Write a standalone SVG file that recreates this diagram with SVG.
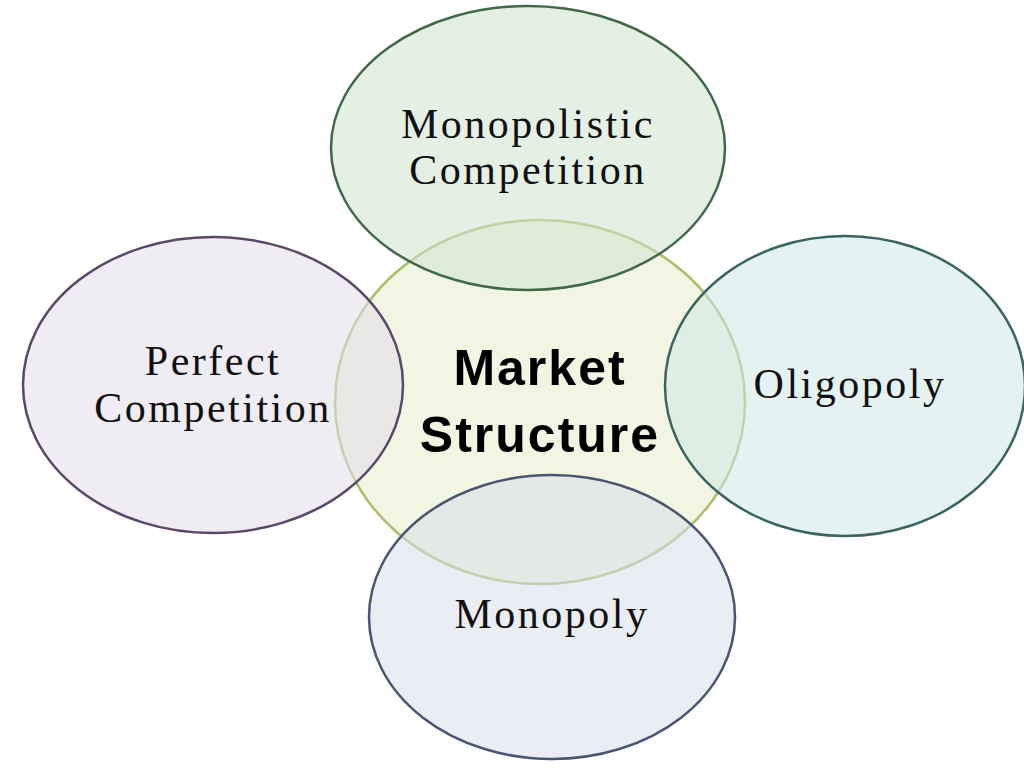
<svg xmlns="http://www.w3.org/2000/svg" width="1024" height="768" viewBox="0 0 1024 768">
<style>
.e{stroke-width:2.5;fill-opacity:0.55}
.t{font-family:"Liberation Serif",serif;font-size:42px;letter-spacing:2.5px;fill:#111;text-anchor:middle}
.c{font-family:"Liberation Sans",sans-serif;font-weight:bold;font-size:50px;letter-spacing:2px;fill:#000;text-anchor:middle}
</style>
<rect width="1024" height="768" fill="#fff"/>
<g id="center"><ellipse class="e" cx="540" cy="402" rx="205" ry="182" fill="#e6eccb" stroke="#a9bf6a"/></g>
<g id="top"><ellipse class="e" cx="528" cy="148" rx="197" ry="142" fill="#cfe4cf" stroke="#3f6a48"/></g>
<g id="left"><ellipse class="e" cx="213" cy="385" rx="190" ry="148" fill="#e3dcea" stroke="#5a4868"/></g>
<g id="right"><ellipse class="e" cx="845" cy="386" rx="180" ry="150" fill="#cde8e6" stroke="#3a6460"/></g>
<g id="bottom"><ellipse class="e" cx="552" cy="617" rx="183" ry="142" fill="#d8dfea" stroke="#4a5670"/></g>
<g id="labels">
<text class="t" x="528" y="138">Monopolistic</text>
<text class="t" x="528" y="184">Competition</text>
<text class="t" x="213" y="375">Perfect</text>
<text class="t" x="213" y="422">Competition</text>
<text class="t" x="850" y="398">Oligopoly</text>
<text class="t" x="552" y="628">Monopoly</text>
<text class="c" x="540" y="385">Market</text>
<text class="c" x="540" y="452">Structure</text>
</g>
</svg>
